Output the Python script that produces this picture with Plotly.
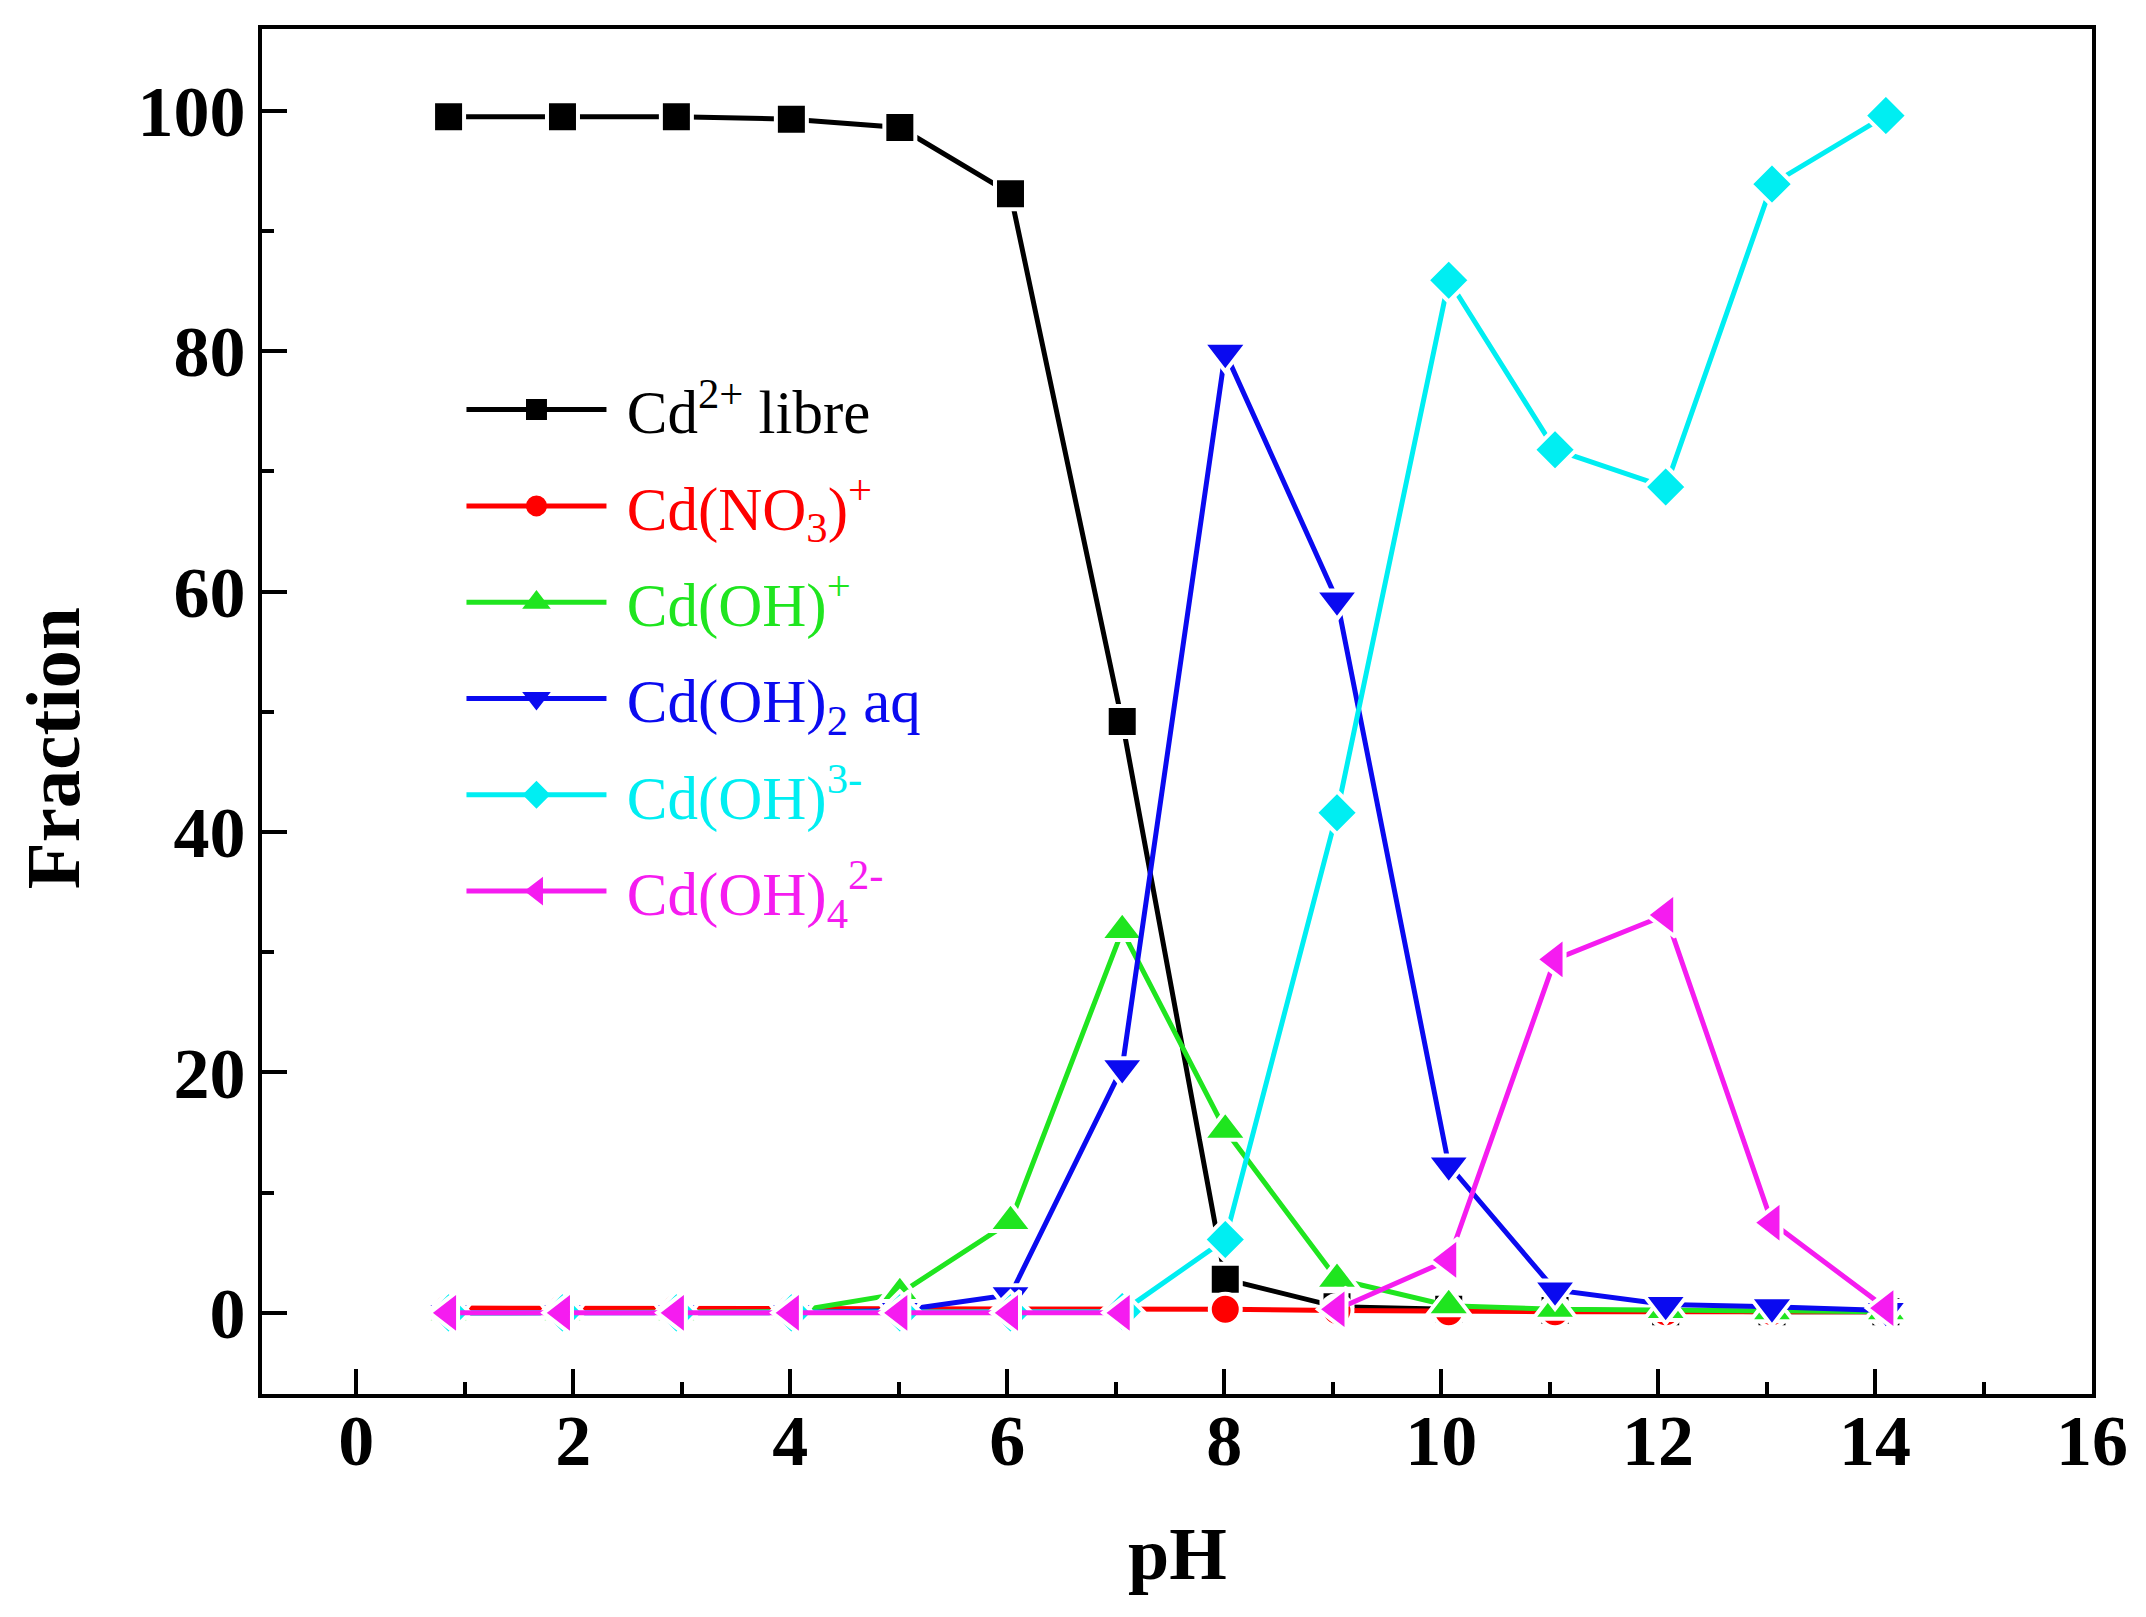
import plotly.graph_objects as go

# ---- data ----
pH = [0.85, 1.9, 2.95, 4.01, 5.01, 6.03, 7.06, 8.01, 9.04, 10.07, 11.05, 12.07, 13.05, 14.1]

cd_libre = [99.5, 99.5, 99.5, 99.3, 98.6, 93.1, 49.2, 2.8, 0.5, 0.3, 0.2, 0.1, 0.1, 0.1]
cd_no3   = [0.4, 0.4, 0.4, 0.4, 0.4, 0.4, 0.3, 0.3, 0.2, 0.1, 0.1, 0.1, 0.1, 0.1]
cd_oh    = [0.0, 0.0, 0.0, 0.1, 1.6, 7.6, 31.8, 15.2, 2.8, 0.6, 0.3, 0.2, 0.1, 0.1]
cd_oh2   = [0.0, 0.0, 0.0, 0.0, 0.2, 1.5, 20.4, 79.9, 59.3, 12.3, 1.9, 0.7, 0.5, 0.2]
cd_oh3   = [0.0, 0.0, 0.0, 0.0, 0.0, 0.0, 0.1, 6.1, 41.6, 85.9, 71.8, 68.7, 93.9, 99.6]
cd_oh4   = [0.0, 0.0, 0.0, 0.0, 0.0, 0.0, 0.0, None, 0.3, 4.4, 29.4, 33.1, 7.5, 0.4]

names = ["Cd<sup>2+</sup> libre",
         "Cd(NO<sub>3</sub>)<sup>+</sup>",
         "Cd(OH)<sup>+</sup>",
         "Cd(OH)<sub>2</sub> aq",
         "Cd(OH)<sup>3-</sup>",
         "Cd(OH)<sub>4</sub><sup>2-</sup>"]
series = [cd_libre, cd_no3, cd_oh, cd_oh2, cd_oh3, cd_oh4]
colors = ["#000000", "#FF0000", "#1FE51F", "#0A0AF0", "#00EEF2", "#F51CF0"]
symbols = ["square", "circle", "triangle-up", "triangle-down", "diamond", "triangle-left"]
sizes = [31, 31, 38, 38, 33, 38]

FONT = "Liberation Serif"

fig = go.Figure()
for i, (nm, ys, c, s, sz) in enumerate(zip(names, series, colors, symbols, sizes)):
    fig.add_trace(go.Scatter(
        x=pH, y=ys, mode="lines+markers", showlegend=False,
        line=dict(color=c, width=5),
        marker=dict(symbol=s, size=sz, color=c, line=dict(color="white", width=4)),
        connectgaps=False,
    ))
for i, (nm, c, s) in enumerate(zip(names, colors, symbols)):
    fig.add_trace(go.Scatter(
        x=[None], y=[None], mode="lines+markers",
        name='<span style="color:%s">&nbsp;%s</span>' % (c, nm),
        legendgroup="g%d" % i,
        line=dict(color=c, width=5),
        marker=dict(symbol=s, size=16, color=c, line=dict(color=c, width=5)),
    ))

axis_common = dict(
    showline=True, linecolor="black", linewidth=4, mirror=True,
    ticks="inside", ticklen=25, tickwidth=4, tickcolor="black",
    showgrid=False, zeroline=False,
    tickfont=dict(family=FONT, size=72, color="black", weight="bold"),
)

fig.update_xaxes(range=[-0.87, 16], tick0=0, dtick=2,
                 minor=dict(dtick=1, ticks="inside", ticklen=12, tickwidth=4, tickcolor="black"),
                 ticklabelstandoff=-19, **axis_common)
fig.update_yaxes(range=[-6.75, 106.8], tick0=0, dtick=20,
                 minor=dict(dtick=10, ticks="inside", ticklen=12, tickwidth=4, tickcolor="black"),
                 ticklabelstandoff=-2, **axis_common)

fig.update_layout(
    width=2146, height=1617,
    margin=dict(l=262, r=54, t=29, b=223),
    paper_bgcolor="white", plot_bgcolor="white",
    legend=dict(x=0.109, y=0.755, xanchor="left", yanchor="top",
                bgcolor="rgba(0,0,0,0)", itemwidth=140, tracegroupgap=14,
                font=dict(family=FONT, size=61, color="black")),
    annotations=[
        dict(text="<b>Fraction</b>", xref="paper", yref="paper", x=-0.1142, y=0.473,
             xanchor="center", yanchor="middle", textangle=-90, showarrow=False,
             font=dict(family=FONT, size=77, color="black")),
        dict(text="<b>pH</b>", xref="paper", yref="paper", x=0.5, y=-0.117,
             xanchor="center", yanchor="middle", showarrow=False,
             font=dict(family=FONT, size=74, color="black")),
    ],
)

fig.write_html("out.html")
